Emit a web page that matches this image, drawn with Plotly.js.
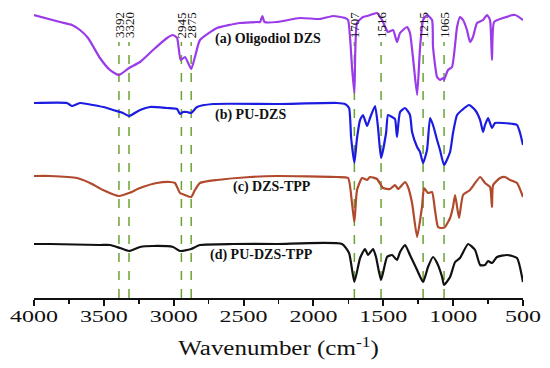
<!DOCTYPE html>
<html><head><meta charset="utf-8">
<script src="https://cdn.plot.ly/plotly-3.0.1.min.js"></script>
<style>html,body{margin:0;padding:0;background:#fff}#chart{width:550px;height:368px}</style>
</head><body><div id="chart"></div>
<script>
// Wavenumbers (cm-1) and stacked transmittance (a.u., offset per spectrum)
const wnA = [4000,3814,3728,3671,3613,3528,3456,3392,3320,3241,3148,3048,3005,2976,2950,2919,2875,2848,2812,2690,2525,2400,2382,2365,2350,2261,2096,1953,1860,1774,1752,1724,1707,1688,1645,1616,1573,1545,1509,1466,1430,1402,1380,1330,1309,1287,1258,1237,1215,1187,1151,1144,1115,1094,1072,1065,1037,1008,972,951,929,901,879,858,829,786,757,736,722,707,643,557,500];
const tA  = [283,276,273,268,260,240,228,223,230,236,248,260,263,260,238,241,229,241,258,270,275,276,276,282,276,276,280,279,282,280,278,231,205,275,281,282,284,285,278,266,268,256,265,271,265,240,203,250,278,283,278,251,221,218,220,218,228,231,271,281,278,268,256,261,275,278,283,278,238,276,280,283,278];

const wnB = [4000,3764,3742,3728,3671,3578,3477,3435,3363,3320,3241,3170,3048,2976,2955,2933,2905,2875,2833,2719,2261,1831,1774,1745,1730,1707,1688,1666,1645,1616,1595,1559,1538,1516,1480,1466,1437,1416,1402,1380,1344,1309,1294,1258,1237,1215,1187,1165,1144,1115,1094,1065,1022,1001,972,936,886,843,807,786,772,750,722,700,643,543,521,500];
const tB  = [195,195,193,192,195,193,190,188,185,182,188,191,190,189,184,186,186,185,191,194,194,195,194,190,160,135,160,178,183,172,180,192,171,140,165,183,181,179,161,186,190,183,166,151,146,135,148,180,173,158,148,133,146,165,183,188,193,188,178,166,173,180,170,175,175,173,165,153];

const wnC = [4000,3885,3692,3599,3506,3392,3320,3241,3120,3027,2991,2955,2919,2875,2848,2812,2690,2454,2261,1831,1752,1724,1707,1688,1652,1616,1595,1545,1502,1452,1416,1394,1344,1323,1294,1258,1223,1208,1180,1151,1130,1108,1079,1058,1022,1001,986,958,929,879,807,772,736,722,714,664,629,593,543,500];
const tC  = [122,122,120,115,108,102,105,110,115,116,115,105,103,101,108,115,118,121,122,121,120,95,76,108,120,118,121,119,110,109,113,109,116,111,95,61,91,110,105,106,88,71,70,71,80,91,103,80,103,108,121,115,111,91,113,120,121,118,115,101];

const wnD = [4000,3885,3528,3456,3384,3320,3241,3148,3005,2955,2905,2875,2812,2576,2261,1795,1745,1707,1666,1631,1609,1573,1552,1516,1473,1437,1402,1380,1344,1309,1258,1215,1180,1144,1115,1079,1065,1022,986,951,893,843,807,772,750,722,686,614,543,500];
const tD  = [54,54,53,53,50,47,51,52,51,47,48,49,53,54,54,54,45,16,40,49,43,49,41,18,41,43,38,46,53,43,28,16,31,41,35,21,13,21,36,40,54,48,33,33,37,35,41,43,40,16];

const seriesNames = ["(a) Oligodiol DZS","(b) PU-DZS","(c) DZS-TPP","(d) PU-DZS-TPP"];
const seriesColors = ["#9a3ae8","#1c1ce0","#b04a2c","#111111"];
const peaks = [3392,3320,2945,2875,1707,1516,1215,1065];
const tickVals = [4000,3500,3000,2500,2000,1500,1000,500];

const SERIF = "'Liberation Serif', 'Times New Roman', Times, serif";
const xs=[wnA,wnB,wnC,wnD], ys=[tA,tB,tC,tD];
const traces = xs.map((x,i)=>({x:x,y:ys[i],type:'scatter',mode:'lines',name:seriesNames[i],
  line:{color:seriesColors[i],width:2.2,shape:'spline',smoothing:0.5},hoverinfo:'skip'}));

const labelPos = [[2325,259],[2447,183],[2296,111],[2375,43]];
const annotations = seriesNames.map((s,i)=>({x:labelPos[i][0],y:labelPos[i][1],xref:'x',yref:'y',text:'<b>'+s+'</b>',
  showarrow:false,font:{family:SERIF,size:14,color:'#111'}}));
peaks.forEach(p=>annotations.push({x:p,y:273,xref:'x',yref:'y',text:String(p),textangle:-90,showarrow:false,
  font:{family:SERIF,size:13,color:'#111'}}));

const shapes = peaks.map(p=>({type:'line',xref:'x',yref:'y',x0:p,x1:p,y0:0,y1:256,
  line:{color:'#6aa332',width:1.5,dash:'dash'},layer:'below'}));

const layout = {
  width:550,height:368,margin:{l:34,r:27,t:0,b:70},
  paper_bgcolor:'#fff',plot_bgcolor:'#fff',showlegend:false,
  font:{family:SERIF,color:'#111'},
  xaxis:{range:[4000,500],tickvals:tickVals,ticktext:tickVals.map(String),showgrid:false,zeroline:false,
    showline:true,linecolor:'#111',linewidth:2,ticks:'outside',ticklen:6,tickwidth:2,tickcolor:'#111',
    minor:{tickvals:[3750,3250,2750,2250,1750,1250,750],ticks:'outside',ticklen:4,tickwidth:1.5,tickcolor:'#111'},
    tickfont:{family:SERIF,size:16,color:'#111'},
    title:{text:'Wavenumber (cm<sup>-1</sup>)',font:{family:SERIF,size:20,color:'#111'},standoff:14}},
  yaxis:{visible:false,range:[0,298],fixedrange:true},
  annotations:annotations,shapes:shapes
};

function stretch(sel,s,dy){
  document.querySelectorAll(sel).forEach(el=>{
    const b=el.getBBox(); const cx=b.x+b.width/2;
    const t=el.getAttribute('transform')||'';
    el.setAttribute('transform',t+' translate('+cx+','+dy+') scale('+s+',1) translate('+(-cx)+',0)');
  });
}
Plotly.newPlot('chart',traces,layout,{staticPlot:true,displayModeBar:false}).then(()=>{
  stretch('.xtick text',1.5,-3);
  stretch('.xtitle',1.25,0);
});
</script></body></html>
